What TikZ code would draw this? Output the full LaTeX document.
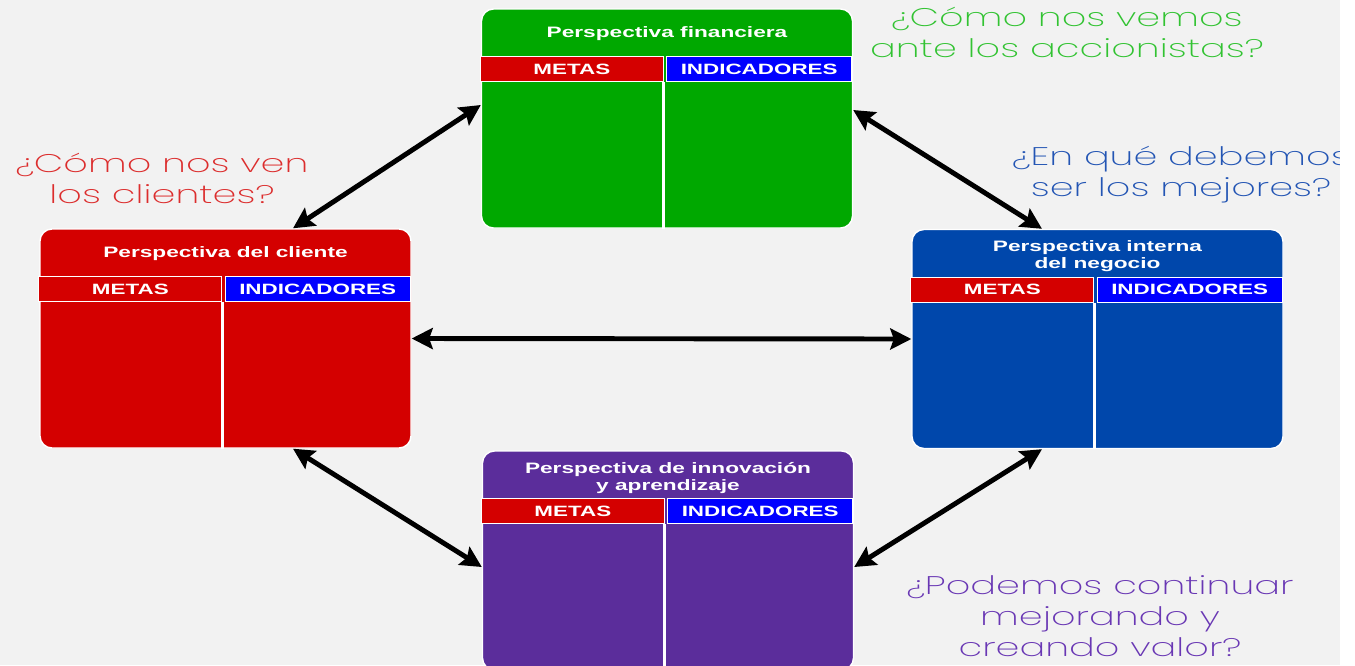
\documentclass[tikz,border=0pt]{standalone}
\usepackage{fontspec}
\setmainfont{Liberation Sans}
\newfontfamily\boxfont[FakeStretch=1.5]{Liberation Sans}
\newfontfamily\askfont[FakeStretch=1.5]{Poppins ExtraLight}
\usetikzlibrary{arrows.meta}

\definecolor{bgray}{RGB}{242,242,242}
\definecolor{fingreen}{RGB}{0,168,0}
\definecolor{clired}{RGB}{212,0,0}
\definecolor{intblue}{RGB}{0,71,171}
\definecolor{innpurple}{RGB}{91,45,155}
\definecolor{hdrblue}{RGB}{0,0,255}
\definecolor{qgreen}{RGB}{50,195,50}
\definecolor{qred}{RGB}{220,45,45}
\definecolor{qblue}{RGB}{35,85,180}
\definecolor{qpurple}{RGB}{105,55,180}

\begin{document}
\begin{tikzpicture}[
      panel/.style={draw=white, line width=0.8pt, rounded corners=0.24cm,
        minimum width=7.42cm, minimum height=4.38cm, inner sep=0pt},
      ptitle/.style={text=white, align=center,
        font=\boxfont\bfseries\fontsize{8.6}{9.6}\selectfont},
      hdr/.style={draw=white, line width=0.6pt, minimum height=0.5cm,
        inner sep=0pt, text=white,
        font=\boxfont\bfseries\fontsize{8.5}{9.6}\selectfont},
      link/.style={line width=2.8pt,
        arrows={Stealth[length=0.42cm,width=0.42cm,inset=0.07cm]-Stealth[length=0.42cm,width=0.42cm,inset=0.07cm]}},
      ask/.style={align=center, font=\askfont\fontsize{14.5}{17.6}\selectfont}]

      \clip (0,0) rectangle (27.1,-13.3);
      \fill[white] (0,0) rectangle (27.1,-13.3);
      \fill[bgray] (0,0) rectangle (26.8,-13.3);

      \foreach \nm/\cx/\cy/\col/\ttl/\dy in {
        fin/13.34/-2.37/fingreen/{Perspectiva financiera}/0.5,
        cli/4.51/-6.77/clired/{Perspectiva del cliente}/0.5,
        int/21.95/-6.78/intblue/{Perspectiva interna\\del negocio}/0.55,
        inn/13.36/-11.21/innpurple/{Perspectiva de innovación\\y aprendizaje}/0.55} {
        \node[panel, fill=\col] (\nm) at (\cx,\cy) {};
        \node[ptitle] (\nm-title) at ([yshift=-\dy cm]\nm.north) {\ttl};
        \node[hdr, fill=clired, minimum width=3.66cm, anchor=north west] (\nm-metas)
          at ([xshift=-0.02cm, yshift=-0.96cm]\nm.north west) {METAS};
        \node[hdr, fill=hdrblue, minimum width=3.7cm, anchor=north east] (\nm-ind)
          at ([xshift=-0.02cm, yshift=-0.96cm]\nm.north east) {INDICADORES};
        \draw[white, line width=1.6pt] (\nm-metas.south east) -- (\nm-metas.south east |- \nm.south);
      }

      \draw[link] ([yshift=0.27cm]fin.west) -- ([xshift=1.35cm]cli.north);
      \draw[link] ([yshift=0.17cm]fin.east) -- ([xshift=-1.11cm]int.north);
      \draw[link] (cli.east) -- (int.west);
      \draw[link] ([xshift=1.35cm]cli.south) -- ([yshift=-0.13cm]inn.west);
      \draw[link] ([xshift=-1.11cm]int.south) -- ([yshift=-0.13cm]inn.east);

      \node[ask, text=qgreen] (fin-ask) at (21.34,-0.64) {¿Cómo nos vemos\\ante los accionistas?};
      \node[ask, text=qred] (cli-ask) at (3.24,-3.57) {¿Cómo nos ven\\los clientes?};
      \node[ask, text=qblue] (int-ask) at (23.62,-3.5) {¿En qué debemos\\ser los mejores?};
      \node[ask, text=qpurple] (inn-ask) at (22.0,-12.32) {¿Podemos continuar\\mejorando y\\creando valor?};

      \fill[white] (26.8,0) rectangle (27.1,-13.3);
    \end{tikzpicture}
\end{document}
